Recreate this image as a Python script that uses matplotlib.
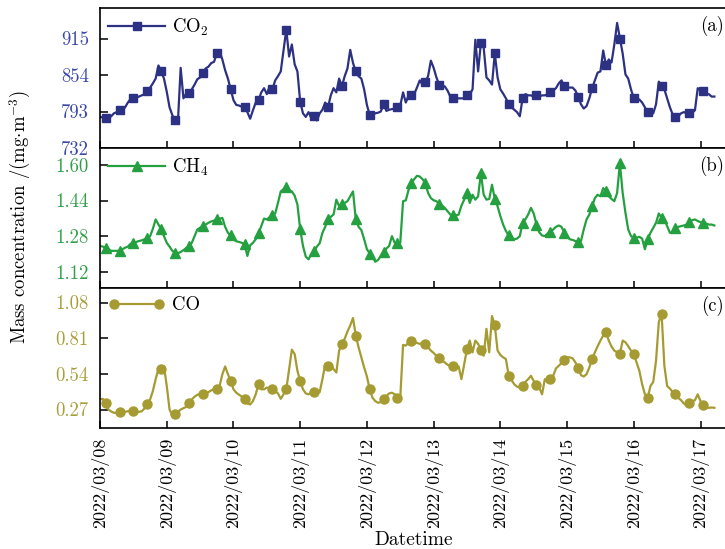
import matplotlib
matplotlib.use("Agg")
import matplotlib.pyplot as plt
import matplotlib.dates as mdates
from matplotlib.legend_handler import HandlerLine2D
import pandas as pd

plt.rcParams['font.family'] = ['cmr10', 'DejaVu Serif']
plt.rcParams['mathtext.fontset'] = 'cm'
plt.rcParams['axes.formatter.use_mathtext'] = True

# hourly mass concentrations, 2022/03/08 00:00 onwards
co2 = [784, 783, 782, 782, 785, 790, 792, 795, 795, 800, 808, 814, 815, 816, 818, 820, 822, 828, 833, 840, 848, 870, 860, 848,
       826, 800, 787, 778, 775, 866, 815, 823, 824, 830, 838, 847, 850, 858, 865, 868, 874, 876, 890, 893, 880, 862, 848, 830,
       812, 804, 803, 801, 800, 792, 781, 795, 808, 812, 825, 832, 822, 835, 830, 845, 852, 860, 895, 930, 885, 905, 872, 860,
       809, 790, 784, 792, 782, 786, 778, 790, 796, 808, 800, 820, 832, 825, 848, 835, 852, 865, 896, 874, 860, 852, 848, 830,
       804, 787, 788, 790, 791, 793, 806, 794, 796, 797, 798, 800, 803, 825, 808, 820, 820, 822, 833, 845, 838, 842, 852, 878,
       866, 850, 838, 836, 835, 828, 818, 816, 815, 815, 815, 815, 820, 822, 830, 913, 860, 908, 900, 850, 845, 838, 890, 850,
       830, 823, 815, 806, 800, 796, 792, 785, 815, 822, 820, 820, 818, 820, 818, 820, 820, 822, 825, 828, 832, 840, 845, 835,
       833, 833, 833, 828, 818, 805, 798, 802, 815, 832, 845, 858, 860, 895, 870, 880, 875, 905, 941, 915, 890, 855, 848, 830,
       815, 815, 813, 808, 800, 792, 790, 790, 805, 843, 835, 830, 815, 800, 788, 784, 785, 790, 792, 790, 790, 791, 795, 832,
       828, 828, 822, 822, 818, 818]

ch4 = [1.236, 1.233, 1.228, 1.221, 1.214, 1.214, 1.214, 1.214, 1.221, 1.228, 1.233, 1.246, 1.250, 1.254, 1.258, 1.261, 1.266, 1.270, 1.280, 1.313, 1.355, 1.332, 1.310, 1.280,
       1.250, 1.233, 1.214, 1.206, 1.203, 1.209, 1.217, 1.227, 1.236, 1.250, 1.280, 1.310, 1.318, 1.325, 1.332, 1.340, 1.346, 1.350, 1.355, 1.358, 1.362, 1.322, 1.295, 1.283,
       1.266, 1.257, 1.254, 1.250, 1.243, 1.191, 1.239, 1.250, 1.266, 1.292, 1.325, 1.359, 1.355, 1.365, 1.373, 1.382, 1.429, 1.481, 1.491, 1.503, 1.486, 1.481, 1.462, 1.422,
       1.310, 1.236, 1.188, 1.176, 1.199, 1.214, 1.233, 1.248, 1.295, 1.322, 1.355, 1.367, 1.377, 1.444, 1.414, 1.426, 1.429, 1.437, 1.459, 1.481, 1.355, 1.322, 1.307, 1.266,
       1.221, 1.202, 1.188, 1.165, 1.173, 1.191, 1.209, 1.224, 1.236, 1.280, 1.250, 1.248, 1.250, 1.437, 1.441, 1.489, 1.518, 1.536, 1.551, 1.548, 1.536, 1.518, 1.474, 1.451,
       1.441, 1.437, 1.426, 1.417, 1.407, 1.392, 1.377, 1.373, 1.373, 1.377, 1.417, 1.444, 1.474, 1.429, 1.466, 1.444, 1.459, 1.563, 1.466, 1.444, 1.447, 1.511, 1.447, 1.414,
       1.370, 1.332, 1.303, 1.283, 1.272, 1.266, 1.269, 1.280, 1.340, 1.355, 1.377, 1.407, 1.382, 1.332, 1.297, 1.283, 1.280, 1.292, 1.297, 1.310, 1.322, 1.328, 1.322, 1.295,
       1.277, 1.266, 1.263, 1.258, 1.254, 1.258, 1.310, 1.355, 1.377, 1.414, 1.451, 1.466, 1.459, 1.496, 1.481, 1.459, 1.447, 1.437, 1.474, 1.607, 1.474, 1.385, 1.310, 1.280,
       1.273, 1.273, 1.277, 1.269, 1.221, 1.266, 1.295, 1.318, 1.340, 1.382, 1.362, 1.355, 1.325, 1.295, 1.297, 1.318, 1.322, 1.325, 1.328, 1.332, 1.343, 1.352, 1.355, 1.348,
       1.343, 1.340, 1.337, 1.332, 1.332, 1.328]

co = [0.346, 0.351, 0.321, 0.270, 0.255, 0.245, 0.245, 0.250, 0.252, 0.252, 0.257, 0.265, 0.260, 0.250, 0.252, 0.257, 0.278, 0.308, 0.346, 0.410, 0.500, 0.576, 0.580, 0.596,
      0.448, 0.270, 0.224, 0.237, 0.250, 0.270, 0.280, 0.290, 0.321, 0.346, 0.367, 0.382, 0.385, 0.385, 0.392, 0.402, 0.415, 0.423, 0.428, 0.448, 0.537, 0.596, 0.537, 0.486,
      0.423, 0.397, 0.382, 0.367, 0.346, 0.316, 0.308, 0.334, 0.385, 0.461, 0.423, 0.423, 0.436, 0.428, 0.423, 0.410, 0.392, 0.351, 0.385, 0.423, 0.576, 0.723, 0.690, 0.563,
      0.486, 0.423, 0.392, 0.385, 0.397, 0.402, 0.397, 0.402, 0.500, 0.614, 0.596, 0.614, 0.576, 0.550, 0.716, 0.767, 0.805, 0.861, 0.907, 0.963, 0.830, 0.741, 0.665, 0.588,
      0.520, 0.423, 0.359, 0.334, 0.321, 0.326, 0.351, 0.372, 0.392, 0.397, 0.385, 0.359, 0.359, 0.759, 0.754, 0.779, 0.792, 0.784, 0.774, 0.767, 0.774, 0.767, 0.741, 0.716,
      0.698, 0.677, 0.660, 0.639, 0.627, 0.609, 0.601, 0.596, 0.596, 0.596, 0.500, 0.614, 0.728, 0.792, 0.703, 0.792, 0.767, 0.723, 0.677, 0.881, 0.703, 0.978, 0.907, 0.716,
      0.683, 0.665, 0.652, 0.525, 0.494, 0.461, 0.443, 0.436, 0.448, 0.479, 0.500, 0.525, 0.486, 0.453, 0.436, 0.385, 0.500, 0.474, 0.500, 0.525, 0.581, 0.601, 0.621, 0.647,
      0.665, 0.665, 0.657, 0.627, 0.581, 0.530, 0.520, 0.537, 0.588, 0.652, 0.703, 0.749, 0.792, 0.830, 0.856, 0.792, 0.746, 0.716, 0.703, 0.690, 0.792, 0.779, 0.749, 0.716,
      0.690, 0.627, 0.563, 0.461, 0.385, 0.359, 0.448, 0.479, 0.639, 0.932, 0.996, 0.601, 0.448, 0.428, 0.402, 0.385, 0.357, 0.341, 0.316, 0.301, 0.321, 0.331, 0.341, 0.385,
      0.334, 0.301, 0.283, 0.283, 0.285, 0.283]

t = pd.date_range('2022-03-08 00:00', periods=len(co2), freq='h')

names = ['CO$_2$', 'CH$_4$', 'CO']
series = [co2, ch4, co]
tags = ['(a)', '(b)', '(c)']
yticks = [[732, 793, 854, 915], [1.12, 1.28, 1.44, 1.60], [0.27, 0.54, 0.81, 1.08]]
ylims = [(732, 966), (1.047, 1.676), (0.13, 1.19)]
fmt = ['%d', '%.2f', '%.2f']

line_c = ['#2c3183', '#25a040', '#a59b32']
tick_c = ['#3a47a8', '#2f9e48', '#a89e3a']
mk = ['s', '^', 'o']
ms = [5.5, 6.5, 6.5]

fig = plt.figure(figsize=(7.25, 5.49), dpi=100)
axs = fig.subplots(3, 1, sharex=True)
fig.subplots_adjust(left=0.138, right=1.002, top=0.9854, bottom=0.2204, hspace=0)

for i, ax in enumerate(axs):
    ln, = ax.plot(t, series[i], color=line_c[i], lw=1.6, marker=mk[i], ms=ms[i],
                  markevery=(2, 5), label=names[i])
    ax.set_ylim(*ylims[i])
    ax.set_yticks(yticks[i])
    ax.set_yticklabels([fmt[i] % v for v in yticks[i]], color=tick_c[i], fontsize=13.5)
    ax.tick_params(axis='y', direction='in', length=6, width=1.1, pad=8)
    ax.tick_params(axis='x', direction='in', length=5, width=1.1, pad=7)
    for s in ax.spines.values():
        s.set_linewidth(1.2)
    hm = {ln: HandlerLine2D(numpoints=2 if i == 2 else 1)}
    ax.legend(handles=[ln], handler_map=hm, loc='upper left', frameon=False,
              fontsize=13.5, handlelength=3.0, handletextpad=0.4,
              borderaxespad=0.15, borderpad=0.3)
    ax.text(0.996, 0.87, tags[i], transform=ax.transAxes, ha='right', va='center', fontsize=13.5)

axs[-1].set_xlim(pd.Timestamp('2022-03-08 00:00'), pd.Timestamp('2022-03-17 09:20'))
axs[-1].xaxis.set_major_locator(mdates.DayLocator())
axs[-1].xaxis.set_major_formatter(mdates.DateFormatter('%Y/%m/%d'))
for lab in axs[-1].get_xticklabels():
    lab.set_rotation(90)
    lab.set_fontsize(13)
axs[-1].set_xlabel('Datetime', fontsize=14, labelpad=2)

fig.text(0.028, 0.605, r'Mass concentration /(mg$\cdot$m$^{-3}$)', rotation=90,
         ha='center', va='center', fontsize=13.5)

fig.savefig('out.png', dpi=100)
